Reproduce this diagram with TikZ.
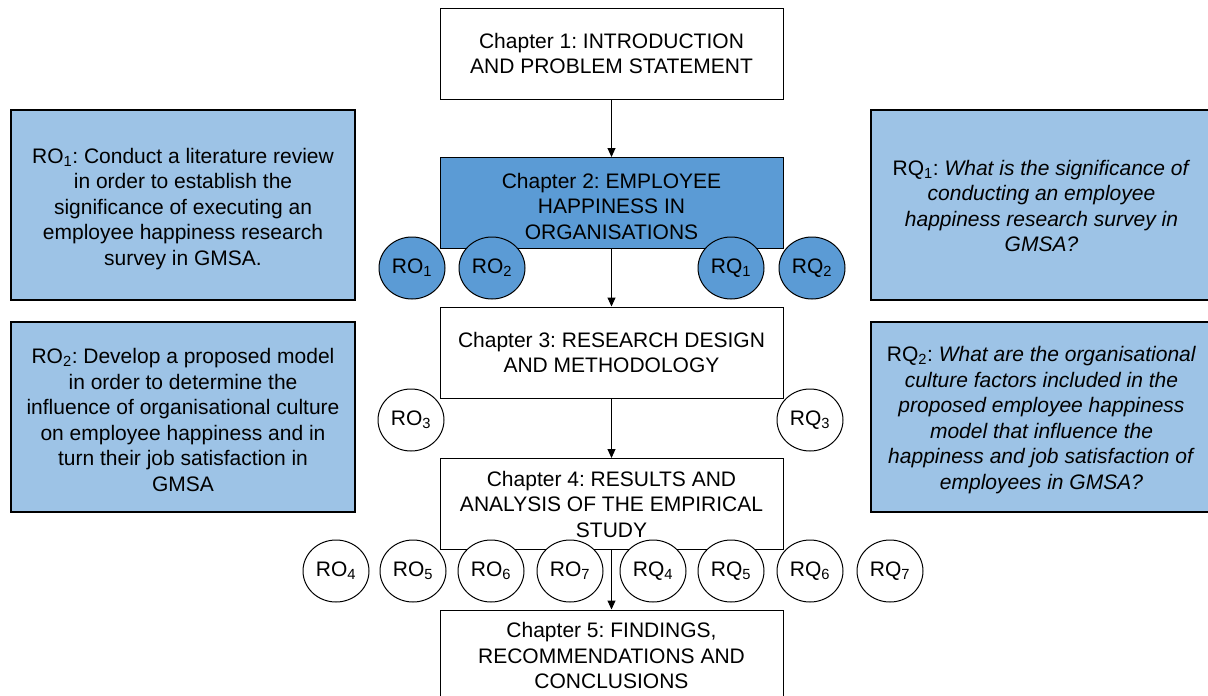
\documentclass[tikz,border=0pt]{standalone}
\usepackage{fontspec}
\setmainfont{Liberation Sans}
\usetikzlibrary{arrows.meta,shapes.geometric}
\frenchspacing

\definecolor{chapblue}{HTML}{5B9BD5}
\definecolor{panelblue}{HTML}{9DC3E6}

\newcommand{\bodyfont}{\fontsize{21}{25.5}\selectfont}
\newcommand{\idx}[1]{\textsubscript{#1}}

\tikzset{
  chapter/.style={draw=black, line width=1pt, fill=white,
    minimum width=343pt, minimum height=91pt, inner sep=0pt,
    align=center, font=\bodyfont},
  keychapter/.style={chapter, fill=chapblue},
  panel/.style={draw=black, line width=1.6pt, fill=panelblue,
    minimum width=344pt, minimum height=190pt, inner sep=0pt},
  boxtext/.style={inner sep=0pt, align=center, font=\bodyfont},
  marker/.style={ellipse, draw=black, line width=1pt, fill=white,
    minimum width=66pt, minimum height=62pt, inner sep=0pt,
    font=\bodyfont},
  keymarker/.style={marker, fill=chapblue},
  flow/.style={-{Triangle[width=8pt,length=9pt]}, line width=1pt},
}

\begin{document}
\begin{tikzpicture}[x=1pt, y=-1pt]
  \useasboundingbox (0,0) rectangle (1208,696);
  \fill[white] (0,0) rectangle (1208,696);

  % chapter boxes down the middle
  \node[chapter]    (ch1) at (611.5,53.5) {Chapter 1: INTRODUCTION\\AND PROBLEM STATEMENT};
  \node[keychapter] (ch2) at (611.5,203)  {};
  \node[boxtext]    (ch2t) at ([yshift=-3pt]ch2.center) {Chapter 2: EMPLOYEE\\HAPPINESS IN\\ORGANISATIONS};
  \node[chapter]    (ch3) at (611.5,352.5){Chapter 3: RESEARCH DESIGN\\AND METHODOLOGY};
  \node[chapter]    (ch4) at (611.5,504)  {Chapter 4: RESULTS AND\\ANALYSIS OF THE EMPIRICAL\\STUDY};
  \node[chapter]    (ch5) at (611.5,655.5){Chapter 5: FINDINGS,\\RECOMMENDATIONS AND\\CONCLUSIONS};

  % objectives on the left, questions on the right
  \node[panel] (po1) at (183,205) {};
  \node[boxtext] (po1t) at ([yshift=-4pt]po1.center) {RO\idx{1}: Conduct a literature review\\in order to establish the\\significance of executing an\\employee happiness research\\survey in GMSA.};
  \node[panel] (po2) at (183,417) {};
  \node[boxtext] (po2t) at ([yshift=-3pt]po2.center) {RO\idx{2}: Develop a proposed model\\in order to determine the\\influence of organisational culture\\on employee happiness and in\\turn their job satisfaction in\\GMSA};
  \node[panel, minimum width=341pt] (pq1) at (1041.5,205) {};
  \node[boxtext] (pq1t) at ([yshift=-1pt]pq1.center) {RQ\idx{1}: \textit{What is the significance of}\\\textit{conducting an employee}\\\textit{happiness research survey in}\\\textit{GMSA?}};
  \node[panel, minimum width=341pt] (pq2) at (1041.5,417) {};
  \node[boxtext] (pq2t) at ([yshift=-3pt]pq2.center) {RQ\idx{2}: \textit{What are the organisational}\\\textit{culture factors included in the}\\\textit{proposed employee happiness}\\\textit{model that influence the}\\\textit{happiness and job satisfaction of}\\\textit{employees in GMSA?}};

  % flow between chapters
  \draw[flow] (ch1.south) -- (ch2.north);
  \draw[flow] (ch2.south) -- (ch3.north);
  \draw[flow] (ch3.south) -- (ch4.north);
  \draw[flow] (ch4.south) -- (ch5.north);

  % markers for chapter 2
  \node[keymarker] (ro1) at (412,268) {RO\idx{1}};
  \node[keymarker] (ro2) at (492,268) {RO\idx{2}};
  \node[keymarker] (rq1) at (731,268) {RQ\idx{1}};
  \node[keymarker] (rq2) at (812,268) {RQ\idx{2}};

  % markers for chapter 3
  \node[marker] (ro3) at (411,420) {RO\idx{3}};
  \node[marker] (rq3) at (810,420) {RQ\idx{3}};

  % markers for chapter 4
  \node[marker] (ro4) at (336,571) {RO\idx{4}};
  \node[marker] (ro5) at (413,571) {RO\idx{5}};
  \node[marker] (ro6) at (491,571) {RO\idx{6}};
  \node[marker] (ro7) at (570,571) {RO\idx{7}};
  \node[marker] (rq4) at (653,571) {RQ\idx{4}};
  \node[marker] (rq5) at (731,571) {RQ\idx{5}};
  \node[marker] (rq6) at (810,571) {RQ\idx{6}};
  \node[marker] (rq7) at (890,571) {RQ\idx{7}};
\end{tikzpicture}
\end{document}
